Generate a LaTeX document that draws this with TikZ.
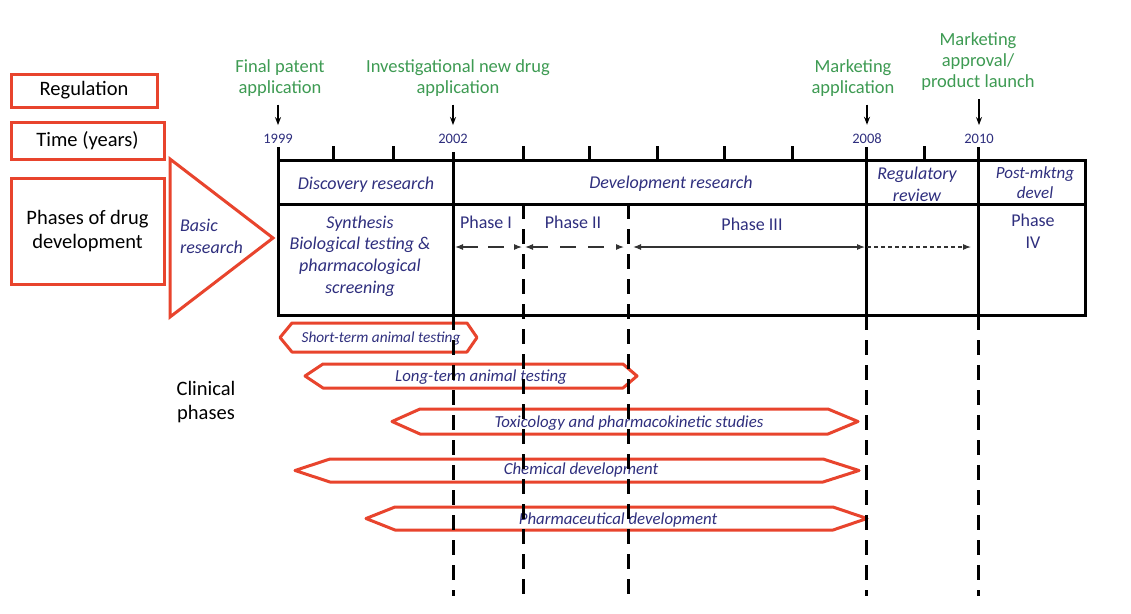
\documentclass[tikz,border=0pt]{standalone}
\usepackage{fontspec}
\setmainfont{Carlito}
\usetikzlibrary{arrows.meta}
\definecolor{redb}{HTML}{E8442D}
\definecolor{navy}{HTML}{2F2F7E}
\definecolor{grn}{HTML}{3E9B53}
\newcommand\hexarrow[6]{%
  \draw[hexs] (#1,#5) -- (#2,#5-#6) -- (#3,#5-#6) -- (#4,#5) -- (#3,#5+#6) -- (#2,#5+#6) -- cycle;}
\begin{document}
\begin{tikzpicture}[x=1pt,y=-1pt,
  redbox/.style={draw=redb,line width=3pt,font=\fontsize{20.5}{24}\selectfont,align=center,inner sep=0},
  blk/.style={font=\fontsize{20.5}{24}\selectfont,align=center,inner sep=0},
  gtxt/.style={text=grn,font=\fontsize{18.5}{21}\selectfont,align=center,inner sep=0},
  yr/.style={text=navy,font=\fontsize{14.5}{16}\selectfont,inner sep=1pt},
  itx/.style={text=navy,font=\fontsize{18}{21.5}\selectfont\itshape,align=center,inner sep=0},
  ptx/.style={text=navy,font=\fontsize{18}{21.5}\selectfont,align=center,inner sep=0},
  htx/.style={text=navy,font=\fontsize{16.8}{19}\selectfont\itshape,inner sep=0},
  tbl/.style={line width=3pt},
  vdash/.style={line width=3pt,dash pattern=on 15pt off 10pt},
  hexs/.style={draw=redb,line width=3pt,line join=round},
  garr/.style={-{Stealth[length=8pt,width=6pt]},line width=1.3pt,shorten <=8pt,shorten >=8pt},
  parr/.style={line width=1.1pt,draw=black!80,>={Latex[length=8pt,width=6pt]}},
]
\useasboundingbox (0,0) rectangle (1131,613);
\fill[white] (0,0) rectangle (1131,613);

% left labels
\node[redbox,minimum width=146,minimum height=33] (reg) at (84,90.5) {Regulation};
\node[redbox,minimum width=153,minimum height=37] (time) at (87.5,140.5) {Time (years)};
\node[redbox,minimum width=153,minimum height=106] (phases) at (87.5,231) {Phases of drug\\development};
\draw[redb,line width=3pt,line join=miter] (170,159) -- (273,238) -- (170,317) -- cycle;
\node[itx,align=left,anchor=west] (basic) at (180,236.5) {Basic\\research};
\node[blk] (clin) at (206,402) {Clinical\\phases};

% years
\node[yr] (y1999) at (278,139) {1999};
\node[yr] (y2002) at (453,139) {2002};
\node[yr] (y2008) at (867,139) {2008};
\node[yr] (y2010) at (979,139) {2010};

% regulation events
\node[gtxt] (fpa) at (280,78) {Final patent\\application};
\node[gtxt] (inda) at (458,78) {Investigational new drug\\application};
\node[gtxt] (ma) at (853,78) {Marketing\\application};
\node[gtxt] (mapl) at (978,62) {Marketing\\approval/\\product launch};
\draw[garr] (fpa.south -| y1999.north) -- (y1999.north);
\draw[garr] (inda.south -| y2002.north) -- (y2002.north);
\draw[garr] (ma.south -| y2008.north) -- (y2008.north);
\draw[garr] (mapl.south -| y2010.north) -- (y2010.north);

% ticks
\foreach \x in {333,393,523,589,657,724,792,924} \draw[tbl] (\x,146) -- (\x,160);
\draw[tbl] (278,147) -- (278,160);
\draw[tbl] (453,152) -- (453,160);
\draw[tbl] (866,147) -- (866,160);
\draw[tbl] (978,147) -- (978,160);

% table
\draw[tbl] (278,160) rectangle (1085,315);
\draw[tbl] (278,204) -- (1085,204);
\foreach \x in {453,866,978} \draw[tbl] (\x,160) -- (\x,315);

% hexagon bars
\hexarrow{280}{292}{467}{477}{337.5}{14.5}
\hexarrow{305}{323}{623}{637}{376}{12}
\hexarrow{392}{420}{828}{858}{421.5}{12.5}
\hexarrow{295}{330}{823}{859}{470.5}{11.5}
\hexarrow{366}{395}{833}{867}{518.5}{11.5}
\node[htx,font=\fontsize{15.3}{18}\selectfont\itshape] (h1) at (381,338) {Short-term animal testing};
\node[htx] (h2) at (481,377) {Long-term animal testing};
\node[htx] (h3) at (629,423) {Toxicology and pharmacokinetic studies};
\node[htx] (h4) at (581,470) {Chemical development};
\node[htx] (h5) at (618,520) {Pharmaceutical development};

% dashed verticals
\foreach \x in {523,628} \draw[vdash] (\x,204) -- (\x,596);
\foreach \x in {453,866,978} \draw[vdash] (\x,315) -- (\x,596);

% table texts
\node[itx] (disc) at (366,185) {Discovery research};
\node[itx] (dev) at (671,184) {Development research};
\node[itx] (regrev) at (917,184.5) {Regulatory\\review};
\node[itx,font=\fontsize{17}{19.5}\selectfont\itshape] (post) at (1035,182.5) {Post-mktng\\devel};
\node[itx,font=\fontsize{18}{21.7}\selectfont\itshape] (synth) at (360,256) {Synthesis\\Biological testing \&\\pharmacological\\screening};
\node[ptx] (ph1) at (486,222) {Phase I};
\node[ptx] (ph2) at (573,222) {Phase II};
\node[ptx] (ph3) at (752,224) {Phase III};
\node[ptx] (ph4) at (1033,231) {Phase\\IV};

% phase arrows
\coordinate (p1a) at (455,247);
\coordinate (p1b) at (522,247);
\coordinate (p2a) at (525,247);
\coordinate (p2b) at (624,247);
\coordinate (p3a) at (633,247);
\coordinate (p3b) at (865,247);
\coordinate (p4a) at (867,247);
\coordinate (p4b) at (971,247);
\draw[parr,<->,dash pattern=on 16pt off 10pt] (p1a) -- (p1b);
\draw[parr,<->,dash pattern=on 16pt off 12pt] (p2a) -- (p2b);
\draw[parr,<->] (p3a) -- (p3b);
\draw[parr,->,dash pattern=on 4pt off 3pt] (p4a) -- (p4b);
\end{tikzpicture}
\end{document}
